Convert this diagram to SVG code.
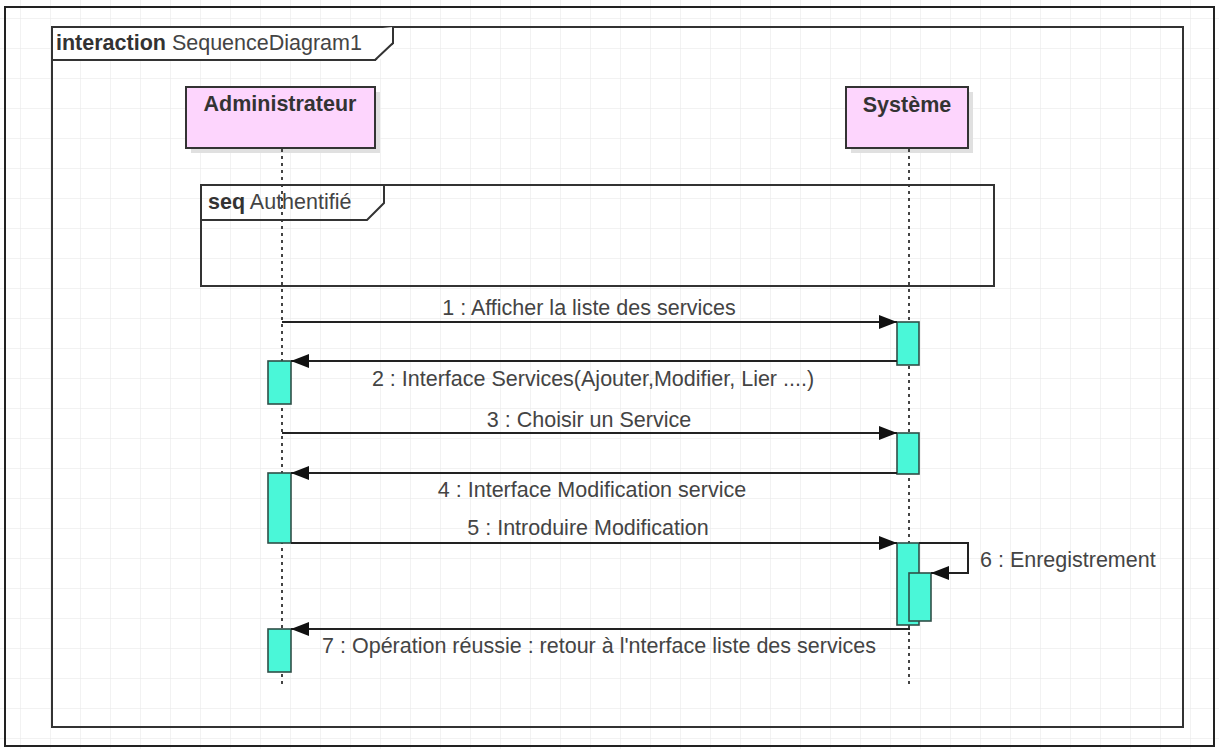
<svg xmlns="http://www.w3.org/2000/svg" width="1219" height="749" viewBox="0 0 1219 749">
<defs>
<pattern id="grid" x="20" y="18" width="30" height="30" patternUnits="userSpaceOnUse">
<path d="M30 0 L0 0 L0 30" fill="none" stroke="#e6e6e6" stroke-width="1"/>
</pattern>
<marker id="arr" markerWidth="18" markerHeight="14" refX="18" refY="7" orient="auto" markerUnits="userSpaceOnUse">
<path d="M0 0 L18 7 L0 14 Z" fill="#111"/>
</marker>
<style>
.t{font-family:"Liberation Sans",Arial,sans-serif;font-size:21.5px;fill:#444}
.b{font-weight:bold;fill:#333}
.frame{fill:none;stroke:#333;stroke-width:2}
.life{fill:#fdd5fd;stroke:#333;stroke-width:2}
.shadow{fill:#e0e0e0}
.act{fill:#4af7d8;stroke:#2f4f48;stroke-width:1.6}
.ll{stroke:#444;stroke-width:2;stroke-dasharray:3 4}
.msg{stroke:#222;stroke-width:2;fill:none}
</style>
</defs>
<rect width="1219" height="749" fill="#fff"/>
<rect width="1219" height="749" fill="url(#grid)"/>
<rect x="5" y="7" width="1209" height="739" fill="none" stroke="#222" stroke-width="2"/>

<g id="frame-interaction">
<rect x="52" y="27" width="1131" height="700" class="frame"/>
<path d="M52 60 L375 60 L393 43 L393 27" fill="#fff" stroke="#333" stroke-width="2"/>
<rect x="53" y="28" width="339" height="31" fill="#fff"/>
<path d="M52 60 L375 60 L393 43 L393 27" fill="none" stroke="#333" stroke-width="2"/>
<text x="56" y="50" class="t"><tspan class="b">interaction</tspan> SequenceDiagram1</text>
</g>

<g id="lifeline-admin">
<rect x="191" y="92" width="189" height="61" class="shadow"/>
<rect x="186" y="87" width="189" height="61" class="life"/>
<text x="280" y="111" class="t b" text-anchor="middle">Administrateur</text>
<line x1="282" y1="149" x2="282" y2="688" class="ll"/>
</g>

<g id="lifeline-systeme">
<rect x="851" y="92" width="122" height="61" class="shadow"/>
<rect x="846" y="87" width="122" height="61" class="life"/>
<text x="907" y="112" class="t b" text-anchor="middle">Système</text>
<line x1="909" y1="149" x2="909" y2="688" class="ll"/>
</g>

<g id="fragment-seq">
<rect x="201" y="185" width="793" height="101" class="frame"/>
<path d="M201 220 L367 220 L384 203 L384 185" fill="none" stroke="#333" stroke-width="2"/>
<text x="208" y="209" class="t"><tspan class="b">seq</tspan> Authentifié</text>
</g>

<g id="activations">
<rect x="897" y="322" width="22" height="43" class="act"/>
<rect x="268" y="361" width="23" height="43" class="act"/>
<rect x="897" y="433" width="22" height="41" class="act"/>
<rect x="268" y="473" width="23" height="70" class="act"/>
<rect x="897" y="543" width="22" height="82" class="act"/>
<rect x="909" y="573" width="22" height="48" class="act"/>
<rect x="268" y="629" width="23" height="43" class="act"/>
</g>

<g id="connectors">
<line x1="282" y1="322" x2="897" y2="322" class="msg" marker-end="url(#arr)"/>
<line x1="897" y1="361" x2="291" y2="361" class="msg" marker-end="url(#arr)"/>
<line x1="282" y1="433" x2="897" y2="433" class="msg" marker-end="url(#arr)"/>
<line x1="897" y1="473" x2="291" y2="473" class="msg" marker-end="url(#arr)"/>
<line x1="291" y1="543" x2="897" y2="543" class="msg" marker-end="url(#arr)"/>
<polyline points="919,543 968,543 968,573 931,573" class="msg" marker-end="url(#arr)"/>
<line x1="910" y1="629" x2="291" y2="629" class="msg" marker-end="url(#arr)"/>
</g>

<g id="labels">
<text x="589" y="315" class="t" text-anchor="middle">1 : Afficher la liste des services</text>
<text x="593" y="386" class="t" text-anchor="middle">2 : Interface Services(Ajouter,Modifier, Lier ....)</text>
<text x="589" y="427" class="t" text-anchor="middle">3 : Choisir un Service</text>
<text x="592" y="497" class="t" text-anchor="middle">4 : Interface Modification service</text>
<text x="588" y="535" class="t" text-anchor="middle">5 : Introduire Modification</text>
<text x="980" y="567" class="t">6 : Enregistrement</text>
<text x="599" y="653" class="t" text-anchor="middle">7 : Opération réussie : retour à l'nterface liste des services</text>
</g>
</svg>
